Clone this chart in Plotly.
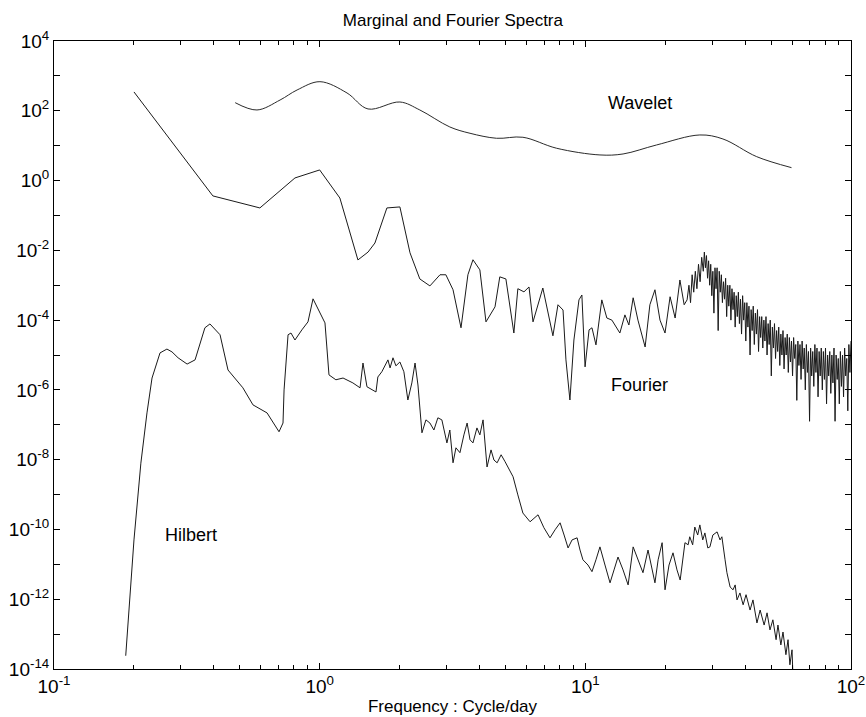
import plotly.graph_objects as go

# ---- data (stored as log10 values of the log-log plot) ----
wavelet_log_freq = [-0.318, -0.236, -0.149, -0.085, 0.001, 0.103, 0.182, 0.302, 0.377, 0.490,
                    0.566, 0.666, 0.765, 0.892, 1.055, 1.142, 1.268, 1.431, 1.518, 1.645, 1.776]
wavelet_log_power = [2.232, 2.023, 2.309, 2.596, 2.834, 2.510, 2.052, 2.252, 2.023, 1.536,
                     1.355, 1.212, 1.241, 0.926, 0.734, 0.762, 1.020, 1.307, 1.192, 0.685, 0.370]

fourier_log_freq = [
    -0.699, -0.402, -0.225, -0.093, 0.000, 0.076, 0.144, 0.182, 0.208, 0.253,
    0.302, 0.340, 0.377, 0.415, 0.453, 0.475, 0.502, 0.532, 0.558, 0.577,
    0.603, 0.626, 0.660, 0.678, 0.701, 0.731, 0.746, 0.769, 0.788, 0.803,
    0.840, 0.878, 0.897, 0.916, 0.927, 0.942, 0.957, 0.976, 0.987, 0.999,
    1.014, 1.025, 1.040, 1.062, 1.081, 1.100, 1.130, 1.149, 1.164, 1.180,
    1.198, 1.225, 1.243, 1.262, 1.281, 1.300, 1.319, 1.338, 1.356, 1.372,
    1.383,
    1.390, 1.396, 1.402, 1.408, 1.414, 1.420, 1.426, 1.432, 1.438, 1.444,
    1.448, 1.452, 1.456, 1.460, 1.464, 1.468, 1.472, 1.476, 1.480, 1.484,
    1.488, 1.492, 1.496, 1.500, 1.504, 1.508, 1.512, 1.516, 1.520, 1.524,
    1.528, 1.532, 1.536, 1.540, 1.544, 1.548, 1.552, 1.556, 1.560, 1.564,
    1.568, 1.572, 1.576, 1.580, 1.584, 1.588, 1.592, 1.596, 1.600, 1.604,
    1.608, 1.612, 1.616, 1.620, 1.624, 1.628, 1.632, 1.636, 1.640, 1.644,
    1.648, 1.652, 1.656, 1.660, 1.664, 1.668, 1.672, 1.676, 1.680, 1.684,
    1.688, 1.692, 1.696, 1.700, 1.704, 1.708, 1.712, 1.716, 1.720, 1.724,
    1.728, 1.732, 1.736, 1.740, 1.744, 1.748, 1.752, 1.756, 1.760, 1.764,
    1.768, 1.772, 1.776, 1.780, 1.784, 1.788, 1.792, 1.796, 1.800, 1.804,
    1.808, 1.812, 1.816, 1.820, 1.824, 1.828, 1.832, 1.836, 1.840, 1.844,
    1.848, 1.852, 1.856, 1.860, 1.864, 1.868, 1.872, 1.876, 1.880, 1.884,
    1.888, 1.892, 1.896, 1.900, 1.904, 1.908, 1.912, 1.916, 1.920, 1.924,
    1.928, 1.932, 1.936, 1.940, 1.944, 1.948, 1.952, 1.956, 1.960, 1.964,
    1.968, 1.972, 1.976, 1.980, 1.984, 1.988, 1.992, 1.996, 2.000]
fourier_log_power = [
    2.54, -0.44, -0.785, 0.075, 0.304, -0.50, -2.275, -2.05, -1.79, -0.785,
    -0.756, -2.07, -2.82, -3.02, -2.70, -2.70, -3.13, -4.22, -2.70, -2.27,
    -2.56, -4.05, -3.62, -2.76, -2.82, -4.37, -3.10, -3.19, -3.05, -4.05,
    -3.08, -4.45, -3.56, -3.71, -5.14, -6.29, -4.57, -3.42, -3.28, -5.34,
    -4.28, -4.22, -4.71, -3.42, -3.94, -4.00, -4.37, -3.85, -4.14, -3.36,
    -4.00, -4.77, -3.56, -3.13, -4.00, -4.37, -3.33, -3.94, -2.85, -3.56,
    -3.42,
    -3.0, -3.5, -2.7, -3.2, -2.6, -3.1, -2.4, -2.9, -2.2, -2.6,
    -2.05, -2.5, -2.15, -2.8, -2.3, -3.0, -2.4, -3.3, -2.6, -3.8,
    -2.5, -3.1, -2.5, -4.3, -2.6, -3.2, -2.7, -3.5, -2.9, -3.4,
    -2.8, -3.9, -3.0, -3.6, -3.0, -4.0, -3.1, -3.7, -3.2, -4.2,
    -3.3, -3.9, -3.2, -4.1, -3.4, -4.4, -3.3, -4.0, -3.5, -4.6,
    -3.5, -4.2, -3.6, -5.0, -3.7, -4.3, -3.6, -4.7, -3.8, -4.4,
    -3.7, -4.9, -3.9, -4.5, -3.9, -4.8, -4.0, -4.6, -3.9, -5.0,
    -4.1, -4.7, -4.0, -5.6, -4.2, -4.8, -4.1, -5.1, -4.3, -4.9,
    -4.2, -5.3, -4.4, -5.0, -4.3, -5.4, -4.5, -5.0, -4.4, -5.5,
    -4.5, -5.2, -4.6, -5.6, -4.5, -5.1, -4.7, -6.3, -4.6, -5.3,
    -4.7, -5.7, -4.6, -5.4, -4.8, -6.0, -4.7, -5.5, -4.9, -6.9,
    -4.8, -5.6, -4.9, -5.9, -4.7, -5.5, -4.8, -6.2, -4.9, -5.6,
    -4.8, -6.0, -4.9, -5.7, -4.8, -6.4, -5.0, -5.6, -4.9, -6.1,
    -5.0, -5.8, -4.8, -6.9, -5.0, -5.7, -5.1, -6.4, -4.9, -5.9,
    -5.0, -6.2, -4.8, -5.6, -5.1, -6.6, -4.7, -5.5, -4.6]

hilbert_log_freq = [
    -0.730, -0.699, -0.673, -0.650, -0.631, -0.601, -0.575, -0.556, -0.533, -0.499,
    -0.469, -0.432, -0.413, -0.375, -0.345, -0.289, -0.251, -0.198, -0.153, -0.138,
    -0.134, -0.119, -0.108, -0.093, -0.067, -0.044, -0.025, -0.003, 0.020, 0.027,
    0.035, 0.061, 0.088, 0.125, 0.152, 0.163, 0.178, 0.212, 0.219, 0.234,
    0.246, 0.257, 0.265, 0.276, 0.287, 0.302, 0.317, 0.332, 0.347, 0.359,
    0.370, 0.377, 0.385, 0.400, 0.415, 0.430, 0.445, 0.460, 0.479, 0.490,
    0.502, 0.513, 0.528, 0.543, 0.555, 0.566, 0.577, 0.592, 0.603, 0.615,
    0.630, 0.645, 0.656, 0.668, 0.683, 0.698, 0.713, 0.728, 0.746, 0.765,
    0.792, 0.807, 0.822, 0.844, 0.867, 0.886, 0.905, 0.920, 0.935, 0.950,
    0.969, 0.980, 0.991, 1.010, 1.025, 1.040, 1.055, 1.074, 1.093, 1.108,
    1.123, 1.142, 1.161, 1.180, 1.198, 1.217, 1.236, 1.251, 1.262, 1.274,
    1.289, 1.300, 1.315, 1.330, 1.345, 1.357, 1.368, 1.375, 1.387, 1.393,
    1.404, 1.412, 1.423, 1.431, 1.442, 1.450, 1.461, 1.469, 1.480, 1.496,
    1.507, 1.514, 1.526, 1.533, 1.545, 1.556, 1.564, 1.571, 1.582, 1.594,
    1.605, 1.620, 1.631, 1.646, 1.658, 1.673, 1.684, 1.695, 1.706, 1.718,
    1.725, 1.736, 1.744, 1.755, 1.763, 1.770, 1.778, 1.781]
hilbert_log_power = [
    -13.62, -10.30, -8.10, -6.66, -5.66, -4.94, -4.83, -4.91, -5.08, -5.26,
    -5.14, -4.22, -4.11, -4.42, -5.43, -5.94, -6.43, -6.66, -7.20, -6.95,
    -6.00, -4.42, -4.37, -4.57, -4.28, -4.05, -3.39, -3.71, -4.08, -4.77,
    -5.57, -5.71, -5.66, -5.80, -5.94, -5.23, -5.91, -6.06, -5.63, -5.48,
    -5.28, -5.14, -5.37, -5.08, -5.31, -5.20, -5.48, -6.29, -5.80, -5.23,
    -5.86, -6.49, -7.23, -6.86, -6.95, -7.15, -6.80, -6.86, -7.52, -7.15,
    -8.09, -7.66, -7.80, -7.29, -6.95, -7.43, -7.52, -7.09, -7.29, -6.86,
    -8.21, -7.72, -8.01, -8.09, -7.86, -8.06, -8.29, -8.49, -9.01, -9.53,
    -9.78, -9.67, -9.58, -9.95, -10.24, -10.01, -9.81, -10.16, -10.53, -10.30,
    -10.24, -10.59, -10.87, -11.02, -11.21, -10.87, -10.50, -11.02, -11.53, -11.16,
    -10.79, -11.16, -11.59, -10.50, -10.87, -11.24, -10.59, -11.10, -11.53, -10.87,
    -10.38, -11.73, -11.02, -10.67, -11.16, -11.45, -10.87, -10.38, -10.44, -10.21,
    -10.44, -9.93, -10.16, -9.87, -10.30, -10.10, -10.53, -10.50, -10.16, -10.07,
    -10.30, -10.21, -10.87, -11.24, -11.65, -11.73, -11.59, -12.02, -11.82, -12.16,
    -11.87, -12.31, -12.02, -12.68, -12.31, -12.74, -12.39, -12.88, -12.59, -13.16,
    -12.74, -13.31, -12.94, -13.59, -13.16, -13.88, -13.45, -14.08]

x_decades = [-1, 0, 1, 2]
y_decades = list(range(-14, 5))
minor_mults = [2, 3, 4, 5, 6, 7, 8, 9]

# ---- figure ----
font = "Arial, Liberation Sans, Helvetica, sans-serif"
line_style = dict(color="#1a1a1a", width=1)

fig = go.Figure()
fig.add_trace(go.Scatter(x=[10 ** v for v in wavelet_log_freq],
                         y=[10 ** v for v in wavelet_log_power],
                         mode="lines", line=dict(color="#2a2a2a", width=1, shape="spline")))
fig.add_trace(go.Scatter(x=[10 ** v for v in fourier_log_freq],
                         y=[10 ** v for v in fourier_log_power],
                         mode="lines", line=line_style))
fig.add_trace(go.Scatter(x=[10 ** v for v in hilbert_log_freq],
                         y=[10 ** v for v in hilbert_log_power],
                         mode="lines", line=line_style))

x_tickvals = [10.0 ** d for d in x_decades]
x_ticktext = ["10<sup>%d</sup>" % d for d in x_decades]
x_minorvals = [m * 10.0 ** d for d in x_decades[:-1] for m in minor_mults]

y_tickvals = [10.0 ** d for d in y_decades if d % 2 == 0]
y_ticktext = ["10<sup>%d</sup>" % d for d in y_decades if d % 2 == 0]
y_minorvals = [10.0 ** d for d in y_decades if d % 2 != 0]

axis_common = dict(type="log", showgrid=False, zeroline=False, showline=True,
                   linecolor="black", linewidth=1, mirror="ticks", automargin=False,
                   ticks="inside", ticklen=6, tickcolor="black", tickwidth=1,
                   tickmode="array",
                   tickfont=dict(family=font, size=19, color="black"))

fig.update_layout(
    width=866, height=717,
    margin=dict(l=54, r=15, t=41, b=48),
    paper_bgcolor="white", plot_bgcolor="white",
    showlegend=False,
    title=dict(text="Marginal and Fourier Spectra", x=0.523, xanchor="center",
               y=0.972, yanchor="middle",
               font=dict(family=font, size=17, color="black")),
    xaxis=dict(range=[-1, 2], tickvals=x_tickvals, ticktext=x_ticktext,
               minor=dict(tickmode="array", tickvals=x_minorvals, ticks="inside",
                          ticklen=4, tickcolor="black", tickwidth=1, showgrid=False),
               title=dict(text="Frequency : Cycle/day", standoff=4,
                          font=dict(family=font, size=17, color="black")),
               **axis_common),
    yaxis=dict(range=[-14, 4], tickvals=y_tickvals, ticktext=y_ticktext,
               minor=dict(tickmode="array", tickvals=y_minorvals, ticks="inside",
                          ticklen=6, tickcolor="black", tickwidth=1, showgrid=False),
               **axis_common),
)

labels = [("Wavelet", 1.205, 2.22), ("Fourier", 1.205, -5.86), ("Hilbert", -0.484, -10.15)]
for txt, lx, ly in labels:
    fig.add_annotation(x=lx, y=ly, text=txt, showarrow=False, xref="x", yref="y",
                       font=dict(family=font, size=18, color="black"))

fig.write_html("out.html")
